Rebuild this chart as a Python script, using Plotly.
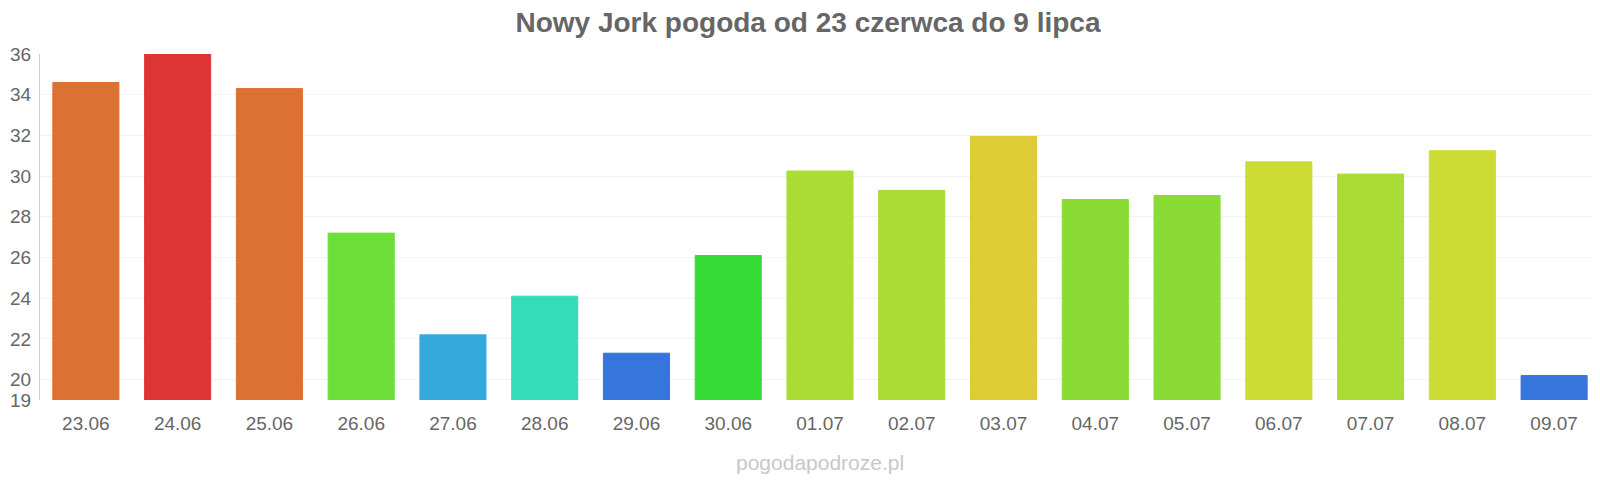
import plotly.graph_objects as go

# dni i temperatury
days = ["23.06", "24.06", "25.06", "26.06", "27.06", "28.06", "29.06", "30.06", "01.07",
        "02.07", "03.07", "04.07", "05.07", "06.07", "07.07", "08.07", "09.07"]
temps = [34.6, 36.0, 34.3, 27.2, 22.2, 24.1, 21.3, 26.1, 30.25,
         29.3, 31.95, 28.85, 29.05, 30.7, 30.1, 31.25, 20.2]
colors = ["#dd7033", "#dd3535", "#dd7033", "#6cdf3a", "#35a8dc", "#35dcba", "#3575dc", "#35dc35", "#aadc35",
          "#aadc35", "#dccc35", "#8adc35", "#8adc35", "#ccdc35", "#aadc35", "#ccdc35", "#3575dc"]
tick_vals = [19, 20, 22, 24, 26, 28, 30, 32, 34, 36]
base = 19

fig = go.Figure(go.Bar(
    x=days, y=[t - base for t in temps], base=base,
    marker=dict(color=colors, line=dict(color=colors, width=1)),
))

fig.update_layout(
    width=1600, height=480,
    paper_bgcolor="white", plot_bgcolor="white",
    margin=dict(l=32, r=8, t=46, b=88),
    bargap=0.28,
    showlegend=False,
    title=dict(text="<b>Nowy Jork pogoda od 23 czerwca do 9 lipca</b>", x=0.5, y=0.99,
               xanchor="center", yanchor="top",
               font=dict(family="Liberation Sans, Arial", size=28, color="#666666")),
    font=dict(family="Liberation Sans, Arial", size=19, color="#666666"),
    annotations=[dict(text="pogodapodroze.pl", x=0.5, y=-0.22, xref="paper", yref="paper",
                      showarrow=False, font=dict(size=21, color="#c8c8c8"))],
)
fig.update_xaxes(showline=False, ticks="", ticklabelstandoff=10,
                 tickfont=dict(size=19, color="#666666"))
fig.update_yaxes(range=[19, 36], tickvals=tick_vals, ticktext=[str(v) for v in tick_vals],
                 automargin=False, ticklabelstandoff=4,
                 showgrid=True, gridcolor="#f2f2f2", showline=True, linecolor="#cccccc",
                 zeroline=False, tickfont=dict(size=19, color="#666666"))
fig.write_html("out.html")
